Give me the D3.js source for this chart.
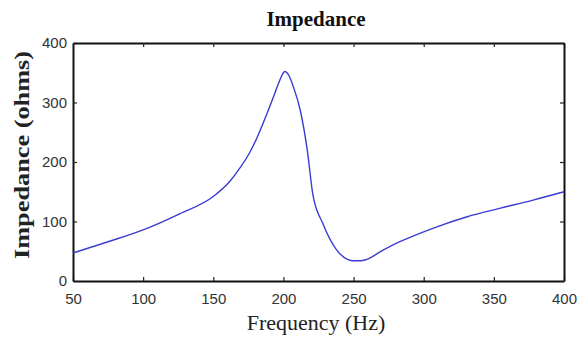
<!DOCTYPE html>
<html>
<head>
<meta charset="utf-8">
<script src="https://cdn.jsdelivr.net/npm/d3@7"></script>
<style>
  body { margin: 0; background: #fff; }
  #chart { width: 582px; height: 347px; }
</style>
</head>
<body>
<div id="chart"></div>
<script>
// Impedance curve
const freqHz = [50, 75, 100, 126, 150, 162, 169, 176, 181, 186, 193, 197, 201, 204, 207, 212, 217, 221, 228, 238, 246, 250, 255, 259, 271, 283, 307, 331, 354, 378, 400];
const impedanceOhms = [47, 66, 86, 113, 142, 168, 190, 216, 240, 268, 310, 335, 352, 345, 327, 287, 220, 145, 97, 52, 36, 34, 34, 36, 52, 66, 89, 108, 122, 136, 150];
const xTicks = [50, 100, 150, 200, 250, 300, 350, 400];
const yTicks = [0, 100, 200, 300, 400];

const width = 582, height = 347;
const margin = { top: 43, right: 18, bottom: 66, left: 73 };
const plotW = width - margin.left - margin.right;
const plotH = height - margin.top - margin.bottom;

const svg = d3.select('#chart')
  .append('svg')
  .attr('width', width)
  .attr('height', height);

const g = svg.append('g')
  .attr('transform', `translate(${margin.left}, ${margin.top})`);

const x = d3.scaleLinear().domain([50, 400]).range([0, plotW]);
const y = d3.scaleLinear().domain([0, 400]).range([plotH, 0]);

// Axes with inner ticks on all four sides
const tickLen = 4;
const axisBottom = g.append('g')
  .attr('transform', `translate(0, ${plotH})`)
  .call(d3.axisBottom(x).tickValues(xTicks).tickSizeInner(-tickLen).tickSizeOuter(0).tickPadding(12));
const axisLeft = g.append('g')
  .call(d3.axisLeft(y).tickValues(yTicks).tickSizeInner(-tickLen).tickSizeOuter(0).tickPadding(6));
const axisTop = g.append('g')
  .call(d3.axisTop(x).tickValues(xTicks).tickSizeInner(-tickLen).tickSizeOuter(0).tickFormat(''));
const axisRight = g.append('g')
  .attr('transform', `translate(${plotW}, 0)`)
  .call(d3.axisRight(y).tickValues(yTicks).tickSizeInner(-tickLen).tickSizeOuter(0).tickFormat(''));

[axisBottom, axisLeft, axisTop, axisRight].forEach(ax => {
  ax.select('.domain').attr('stroke', '#111').attr('stroke-width', 2);
  ax.selectAll('.tick line').attr('stroke', '#222').attr('stroke-width', 1.2);
  ax.selectAll('.tick text')
    .attr('font-family', 'Liberation Sans, Arial, sans-serif')
    .attr('font-size', '15px')
    .attr('fill', '#333');
});

// Curve
const line = d3.line()
  .x((d, i) => x(freqHz[i]))
  .y(d => y(d))
  .curve(d3.curveMonotoneX);

g.append('path')
  .datum(impedanceOhms)
  .attr('fill', 'none')
  .attr('stroke', '#3b3bd4')
  .attr('stroke-width', 1.4)
  .attr('d', line);

// Title and axis labels
svg.append('text')
  .attr('x', 316)
  .attr('y', 26)
  .attr('text-anchor', 'middle')
  .attr('font-family', 'Liberation Serif, Times New Roman, serif')
  .attr('font-weight', 'bold')
  .attr('font-size', '21px')
  .attr('fill', '#111')
  .text('Impedance');

svg.append('text')
  .attr('x', 316)
  .attr('y', 330)
  .attr('text-anchor', 'middle')
  .attr('font-family', 'Liberation Serif, Times New Roman, serif')
  .attr('font-size', '22px')
  .attr('fill', '#222')
  .text('Frequency (Hz)');

svg.append('text')
  .attr('transform', 'translate(29, 155) rotate(-90)')
  .attr('text-anchor', 'middle')
  .attr('font-family', 'Liberation Serif, Times New Roman, serif')
  .attr('font-weight', 'bold')
  .attr('font-size', '22px')
  .attr('textLength', 208)
  .attr('lengthAdjust', 'spacingAndGlyphs')
  .attr('fill', '#222')
  .text('Impedance (ohms)');
</script>
</body>
</html>
